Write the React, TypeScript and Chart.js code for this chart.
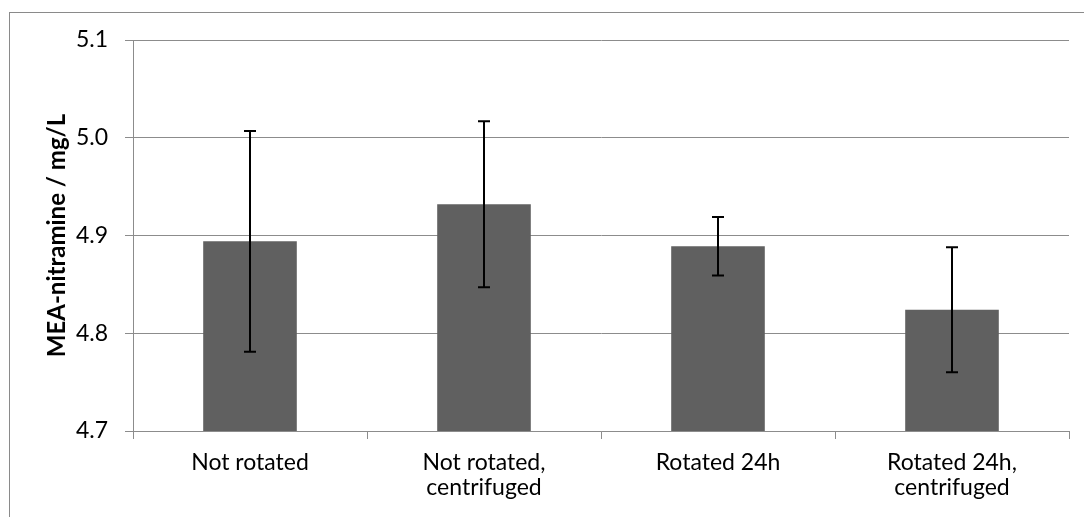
import React, { useEffect, useRef } from "react";
import { Chart, registerables } from "chart.js";

Chart.register(...registerables);

const categories: (string | string[])[] = [
  "Not rotated",
  ["Not rotated,", "centrifuged"],
  "Rotated 24h",
  ["Rotated 24h,", "centrifuged"],
];
const values: number[] = [4.894, 4.932, 4.889, 4.824];
const errors: number[] = [0.113, 0.085, 0.03, 0.064];
const yTicks: number[] = [4.7, 4.8, 4.9, 5.0, 5.1];
const yTitle = "MEA-nitramine / mg/L";

const FONT = "Lato, 'Open Sans', sans-serif";
const GRID = "#8c8c8c";

const errorBarPlugin = {
  id: "errorBars",
  afterDatasetsDraw(chart: any) {
    const ctx = chart.ctx;
    const meta = chart.getDatasetMeta(0);
    const y = chart.scales.y;
    ctx.save();
    ctx.strokeStyle = "#000000";
    ctx.lineWidth = 2;
    meta.data.forEach((bar: any, i: number) => {
      const x = Math.round(bar.x);
      const top = y.getPixelForValue(values[i] + errors[i]);
      const bot = y.getPixelForValue(values[i] - errors[i]);
      ctx.beginPath();
      ctx.moveTo(x, top);
      ctx.lineTo(x, bot);
      ctx.moveTo(x - 6, top);
      ctx.lineTo(x + 6, top);
      ctx.moveTo(x - 6, bot);
      ctx.lineTo(x + 6, bot);
      ctx.stroke();
    });
    ctx.restore();
  },
};

const framePlugin = {
  id: "frame",
  beforeDraw(chart: any) {
    const ctx = chart.ctx;
    ctx.save();
    ctx.fillStyle = "#ffffff";
    ctx.fillRect(0, 0, chart.width, chart.height);
    ctx.strokeStyle = "#8a8a8a";
    ctx.lineWidth = 1;
    ctx.strokeRect(9.5, 12.5, 3000, 3000);
    ctx.restore();
  },
};

export default function App() {
  const ref = useRef<HTMLCanvasElement | null>(null);

  useEffect(() => {
    if (!ref.current) return;
    const chart = new Chart(ref.current, {
      type: "bar",
      data: {
        labels: categories,
        datasets: [
          {
            data: values,
            backgroundColor: "#606060",
            borderWidth: 0,
            barPercentage: 0.4,
            categoryPercentage: 1,
          },
        ],
      },
      options: {
        responsive: false,
        animation: false,
        layout: { padding: { left: 0, top: 40, right: 15, bottom: 0 } },
        plugins: {
          legend: { display: false },
          tooltip: { enabled: false },
        },
        scales: {
          x: {
            offset: true,
            grid: {
              offset: true,
              drawOnChartArea: false,
              drawTicks: true,
              tickLength: 8,
              color: GRID,
            },
            border: { color: GRID },
            ticks: {
              color: "#000000",
              font: { family: FONT, size: 23, lineHeight: 1.1 },
              padding: 11,
              maxRotation: 0,
              autoSkip: false,
            },
            afterFit(scale: any) {
              scale.height = 86;
            },
          },
          y: {
            min: 4.7,
            max: 5.1,
            afterBuildTicks(scale: any) {
              scale.ticks = yTicks.map((v) => ({ value: v }));
            },
            grid: { color: GRID, tickLength: 8, drawTicks: true },
            border: { color: GRID },
            ticks: {
              color: "#000000",
              font: { family: FONT, size: 23 },
              padding: 17,
              callback: (v: any) => Number(v).toFixed(1),
            },
            title: {
              display: true,
              text: yTitle,
              color: "#000000",
              font: { family: FONT, size: 24, weight: "bold", lineHeight: 1.2 },
              padding: { top: 43, bottom: 0 },
            },
            afterFit(scale: any) {
              scale.width = 133;
            },
          },
        },
      },
      plugins: [framePlugin, errorBarPlugin],
    });
    return () => chart.destroy();
  }, []);

  return (
    <div style={{ position: "absolute", left: 0, top: 0, width: 1084, height: 517 }}>
      <canvas ref={ref} width={1084} height={517} style={{ width: 1084, height: 517 }} />
    </div>
  );
}
